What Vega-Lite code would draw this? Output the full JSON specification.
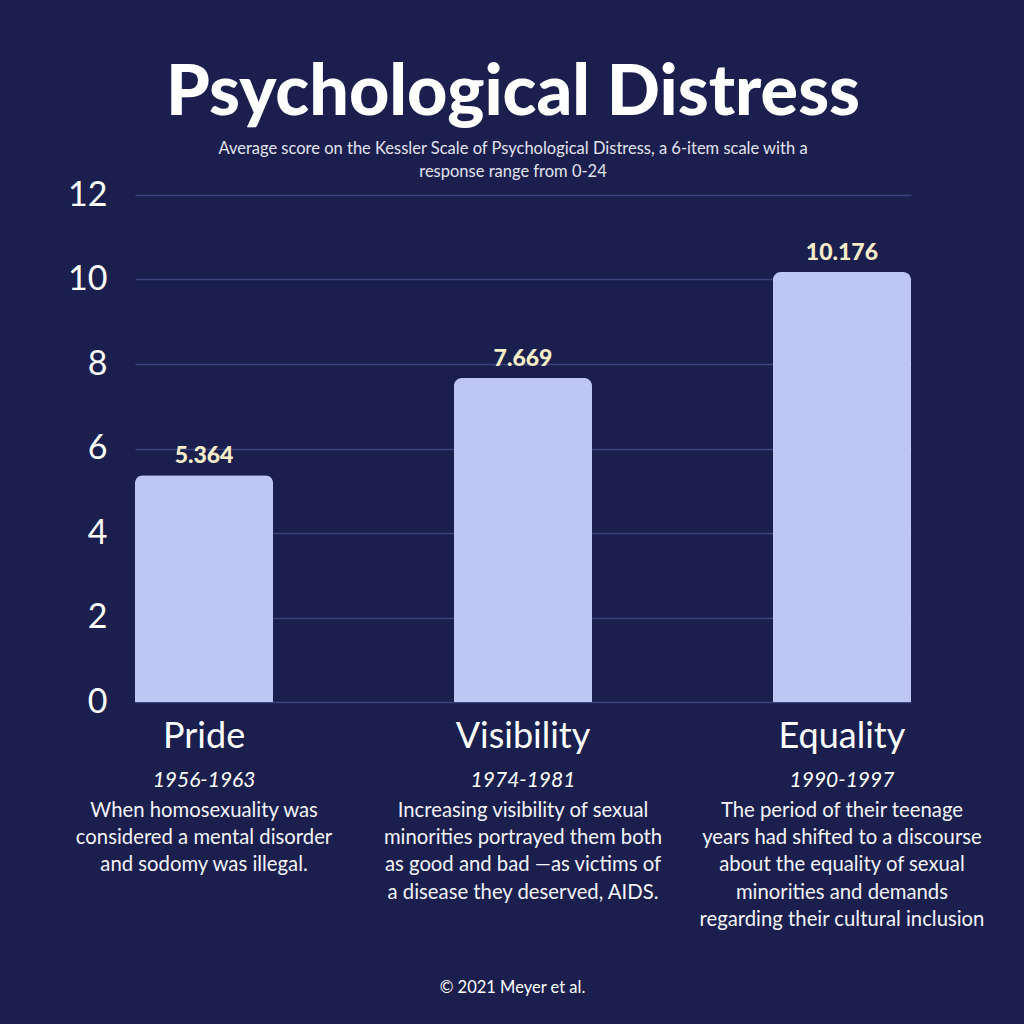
{
  "$schema": "https://vega.github.io/schema/vega-lite/v6.json",
  "width": 776,
  "height": 507,
  "autosize": {"type": "none"},
  "padding": {"left": 135, "top": 195, "right": 113, "bottom": 322},
  "background": "#1a1f4e",
  "title": {
    "text": "Psychological Distress",
    "subtitle": ["Average score on the Kessler Scale of Psychological Distress, a 6-item scale with a", "response range from 0-24"],
    "anchor": "middle",
    "frame": "group",
    "dx": -10,
    "offset": -3,
    "font": "Lato",
    "fontSize": 70,
    "fontWeight": 900,
    "color": "#ffffff",
    "subtitleFont": "Lato",
    "subtitleFontSize": 16.5,
    "subtitleColor": "#e2e3ee",
    "subtitleLineHeight": 23,
    "subtitlePadding": 11
  },
  "data": {
    "values": [
      {"period": "Pride", "score": 5.364, "years": "1956-1963", "desc": "When homosexuality was|considered a mental disorder|and sodomy was illegal."},
      {"period": "Visibility", "score": 7.669, "years": "1974-1981", "desc": "Increasing visibility of sexual|minorities portrayed them both|as good and bad —as victims of|a disease they deserved, AIDS."},
      {"period": "Equality", "score": 10.176, "years": "1990-1997", "desc": "The period of their teenage|years had shifted to a discourse|about the equality of sexual|minorities and demands|regarding their cultural inclusion"}
    ]
  },
  "encoding": {
    "x": {
      "field": "period",
      "type": "nominal",
      "sort": null,
      "scale": {"paddingInner": 0.567, "paddingOuter": 0},
      "axis": {
        "labelAngle": 0,
        "labelFont": "Lato",
        "labelFontSize": 36,
        "labelColor": "#ffffff",
        "labelPadding": 17,
        "ticks": false,
        "domain": false,
        "title": "© 2021 Meyer et al.",
        "titleFont": "Lato",
        "titleFontSize": 16.5,
        "titleFontWeight": "normal",
        "titleColor": "#ffffff",
        "titleX": 377,
        "titleY": 285,
        "titleBaseline": "middle"
      }
    }
  },
  "layer": [
    {
      "mark": {"type": "bar", "color": "#bec7f4", "cornerRadiusTopLeft": 8, "cornerRadiusTopRight": 8},
      "encoding": {
        "y": {
          "field": "score",
          "type": "quantitative",
          "scale": {"domain": [0, 12]},
          "axis": {
            "values": [0, 2, 4, 6, 8, 10, 12],
            "title": null,
            "grid": true,
            "gridColor": "#3a437b",
            "gridWidth": 1.5,
            "domain": false,
            "ticks": false,
            "labelFont": "Lato",
            "labelFontSize": 34,
            "labelColor": "#ffffff",
            "labelPadding": 28
          }
        }
      }
    },
    {
      "mark": {"type": "text", "font": "Lato", "fontSize": 23, "fontWeight": 900, "color": "#f7edc8", "baseline": "alphabetic", "dy": -12},
      "encoding": {
        "y": {"field": "score", "type": "quantitative"},
        "text": {"field": "score", "type": "quantitative", "format": ".3f"}
      }
    },
    {
      "mark": {"type": "text", "font": "Lato", "fontSize": 21, "fontStyle": "italic", "color": "#ffffff", "baseline": "middle", "dy": 79},
      "encoding": {
        "y": {"datum": 0, "type": "quantitative"},
        "text": {"field": "years"}
      }
    },
    {
      "mark": {"type": "text", "font": "Lato", "fontSize": 20.3, "color": "#f4f4f8", "baseline": "top", "lineBreak": "|", "lineHeight": 27.2, "dy": 99},
      "encoding": {
        "y": {"datum": 0, "type": "quantitative"},
        "text": {"field": "desc"}
      }
    }
  ],
  "config": {"view": {"stroke": null}}
}
